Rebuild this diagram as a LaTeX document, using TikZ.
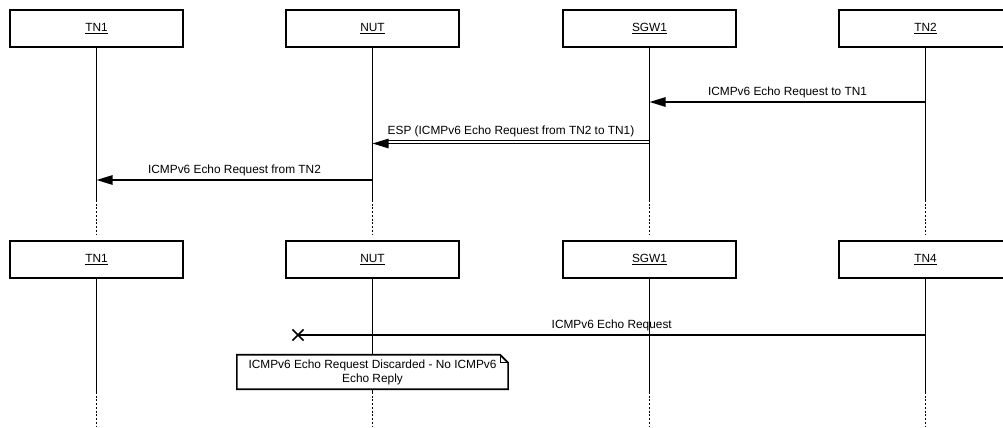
\documentclass[tikz,border=0pt]{standalone}
\usepackage{fontspec}
\setmainfont{Liberation Sans}
\usetikzlibrary{arrows.meta,shapes.misc}
\begin{document}
\begin{tikzpicture}[
        x=0.75pt, y=-0.75pt,
        every node/.style={font=\fontsize{8.9}{10.5}\selectfont},
        actor/.style={rectangle, draw, line width=1.3pt, fill=white, minimum width=129.75pt, minimum height=27.75pt, inner sep=0pt},
        life/.style={line width=1.2pt},
        lifegap/.style={line width=1.2pt, dash pattern=on 1.4pt off 1.4pt},
        msg/.style={line width=1.2pt, -{Triangle[length=12pt, width=7pt]}},
        tunnel/.style={line width=0.6pt},
        lost/.style={cross out, draw, line width=1.3pt, minimum size=7pt, inner sep=0pt},
        memo/.style={rectangle, fill=white, minimum width=203pt, minimum height=25.5pt, inner sep=0pt, align=center}
    ]
    \useasboundingbox (0,0) rectangle (1003,428);

    \node[actor] (tnA)  at (96.5,28.5)  {\underline{TN1}};
    \node[actor] (nutA) at (372.5,28.5) {\underline{NUT}};
    \node[actor] (sgwA) at (649.5,28.5) {\underline{SGW1}};
    \node[actor] (tnB)  at (925.5,28.5) {\underline{TN2}};

    \node[actor] (tnC)  at (96.5,259.5)  {\underline{TN1}};
    \node[actor] (nutB) at (372.5,259.5) {\underline{NUT}};
    \node[actor] (sgwB) at (649.5,259.5) {\underline{SGW1}};
    \node[actor] (tnD)  at (925.5,259.5) {\underline{TN4}};

    \foreach \n in {tnA,nutA,sgwA,tnB} {
        \coordinate (\n-cut) at (\n |- 0,200);
        \coordinate (\n-end) at (\n |- 0,235);
        \draw[life] (\n) -- (\n-cut);
        \draw[lifegap] (\n-cut) -- (\n-end);
    }
    \foreach \n in {tnC,nutB,sgwB,tnD} {
        \coordinate (\n-cut) at (\n |- 0,392);
        \coordinate (\n-end) at (\n |- 0,428);
        \draw[life] (\n) -- (\n-cut);
        \draw[lifegap] (\n-cut) -- (\n-end);
    }

    \coordinate (req-from) at (tnB |- 0,102);
    \coordinate (req-to)   at (sgwA |- 0,102);
    \draw[msg] (req-from) -- node[above, inner sep=2.5pt] {ICMPv6 Echo Request to TN1} (req-to);

    \coordinate (esp-from) at (sgwA |- 0,143.5);
    \coordinate (esp-to)   at (nutA |- 0,143.5);
    \coordinate (esp-top)  at (sgwA |- 0,140.5);
    \coordinate (esp-head) at (385,140.5);
    \draw[tunnel] (esp-top) -- (esp-head);
    \draw[msg] (esp-from) -- node[above, inner sep=4.5pt] {ESP (ICMPv6 Echo Request from TN2 to TN1)} (esp-to);

    \coordinate (fwd-from) at (nutA |- 0,180);
    \coordinate (fwd-to)   at (tnA |- 0,180);
    \draw[msg] (fwd-from) -- node[above, inner sep=2.5pt] {ICMPv6 Echo Request from TN2} (fwd-to);

    \node[lost] (drop) at (298,335) {};
    \coordinate (echo-from) at (tnD |- drop);
    \draw[life] (echo-from) -- node[above, inner sep=2.5pt] {ICMPv6 Echo Request} (drop.center);

    \node[memo] (note) at (372.5,372) {ICMPv6 Echo Request Discarded - No ICMPv6\\Echo Reply};
    \draw[line width=1.2pt] (note.north west) -- ([xshift=-6pt]note.north east) -- ([yshift=-6pt]note.north east)
        -- (note.south east) -- (note.south west) -- cycle;
    \draw[line width=0.7pt] ([xshift=-6pt]note.north east) |- ([yshift=-6pt]note.north east);
\end{tikzpicture}
\end{document}
